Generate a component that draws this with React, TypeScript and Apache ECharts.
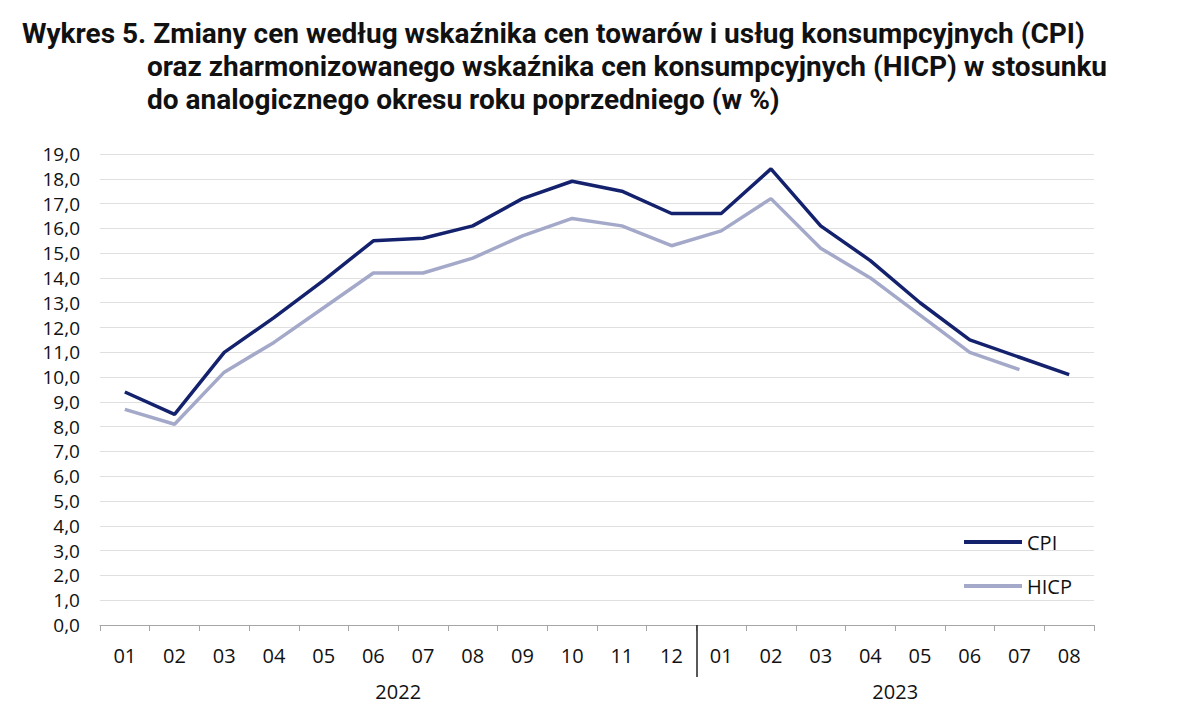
import React, { useEffect, useRef } from "react";
import * as echarts from "echarts";

const months = ["01","02","03","04","05","06","07","08","09","10","11","12","01","02","03","04","05","06","07","08"];
const years = ["2022", "2023"];
const yearMonthCounts = [12, 8];
const cpi = [9.4, 8.5, 11.0, 12.4, 13.9, 15.5, 15.6, 16.1, 17.2, 17.9, 17.5, 16.6, 16.6, 18.4, 16.1, 14.7, 13.0, 11.5, 10.8, 10.1];
const hicp = [8.7, 8.1, 10.2, 11.4, 12.8, 14.2, 14.2, 14.8, 15.7, 16.4, 16.1, 15.3, 15.9, 17.2, 15.2, 14.0, 12.5, 11.0, 10.3, null];
const titleLines = [
  "Wykres 5. Zmiany cen według wskaźnika cen towarów i usług konsumpcyjnych (CPI)",
  "oraz zharmonizowanego wskaźnika cen konsumpcyjnych (HICP) w stosunku",
  "do analogicznego okresu roku poprzedniego (w %)",
];

export default function App() {
  const ref = useRef<HTMLDivElement>(null);
  useEffect(() => {
    if (!ref.current) return;
    const chart = echarts.init(ref.current, null, { renderer: "svg" });
    const yearCenters: number[] = [];
    const yearBounds: number[] = [];
    let acc = 0;
    yearMonthCounts.forEach((n, i) => {
      yearCenters.push(acc + n / 2);
      acc += n;
      if (i < yearMonthCounts.length - 1) yearBounds.push(acc);
    });
    const font = "'Open Sans', 'Noto Sans', sans-serif";
    const titleFont = "bold 28px Roboto, sans-serif";
    chart.setOption({
      animation: false,
      backgroundColor: "#ffffff",
      graphic: [
        { type: "text", left: 22, top: 19, style: { text: titleLines[0], font: titleFont, fill: "#111" } },
        { type: "text", left: 147, top: 52, style: { text: titleLines[1], font: titleFont, fill: "#111" } },
        { type: "text", left: 147, top: 85, style: { text: titleLines[2], font: titleFont, fill: "#111" } },
      ],
      grid: { left: 100, right: 106, top: 154, bottom: 101, containLabel: false },
      legend: {
        orient: "vertical",
        left: 964,
        top: 532,
        padding: 0,
        icon: "rect",
        itemWidth: 58,
        itemHeight: 4,
        itemGap: 24,
        textStyle: { fontFamily: font, fontSize: 20, color: "#111", lineHeight: 20, padding: [0, 0, 0, 0] },
        data: ["CPI", "HICP"],
      },
      xAxis: [
        {
          type: "category",
          data: months,
          boundaryGap: true,
          axisLine: { lineStyle: { color: "#a6a6a6", width: 1 } },
          axisTick: { show: true, length: 6, lineStyle: { color: "#a6a6a6" }, interval: 0 },
          axisLabel: { fontFamily: font, fontSize: 20, color: "#111", margin: 20, interval: 0 },
        },
        {
          type: "value",
          min: 0,
          max: months.length,
          position: "bottom",
          axisLine: { show: false },
          splitLine: { show: false },
          axisTick: { show: true, customValues: yearBounds, length: 52, lineStyle: { color: "#222", width: 1.5 } },
          axisLabel: {
            show: true,
            customValues: yearCenters,
            fontFamily: font,
            fontSize: 20,
            color: "#111",
            margin: 56,
            formatter: (v: number) => {
              const i = yearCenters.findIndex((c) => Math.abs(c - v) < 1e-6);
              return i >= 0 ? years[i] : "";
            },
          },
        },
      ],
      yAxis: {
        type: "value",
        min: 0,
        max: 19,
        interval: 1,
        axisLine: { show: false },
        axisTick: { show: false },
        splitLine: { lineStyle: { color: "#e0e0e0", width: 1 } },
        axisLabel: {
          fontFamily: font,
          fontSize: 19,
          color: "#111",
          margin: 20,
          formatter: (v: number) => v.toFixed(1).replace(".", ","),
        },
      },
      series: [
        {
          name: "CPI",
          type: "line",
          data: cpi,
          symbol: "none",
          lineStyle: { color: "#14226e", width: 3.5 },
          itemStyle: { color: "#14226e" },
          xAxisIndex: 0,
        },
        {
          name: "HICP",
          type: "line",
          data: hicp,
          symbol: "none",
          lineStyle: { color: "#a4a9c9", width: 3.5 },
          itemStyle: { color: "#a4a9c9" },
          xAxisIndex: 0,
        },
      ],
    });
    return () => chart.dispose();
  }, []);
  return <div ref={ref} style={{ position: "fixed", left: 0, top: 0, width: 1200, height: 726 }} />;
}
